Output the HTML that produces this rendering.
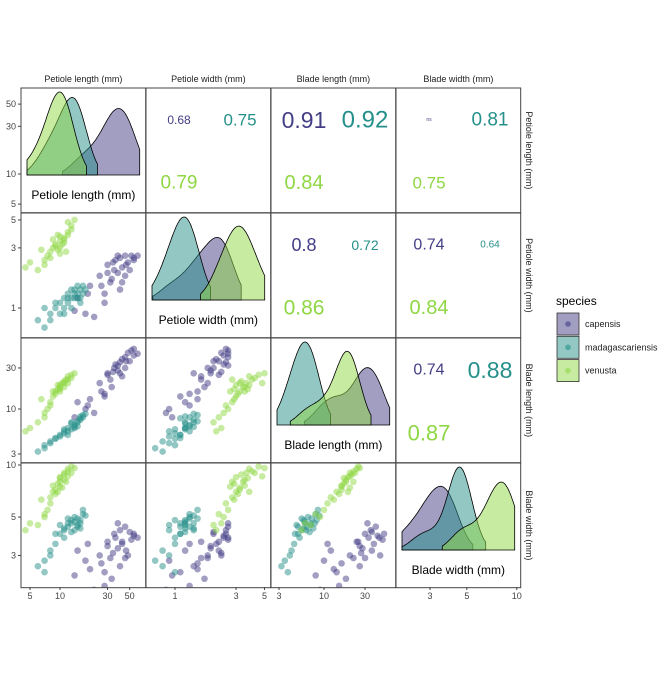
<!DOCTYPE html>
<html><head><meta charset="utf-8"><style>
body{margin:0;background:#fff;}
svg{font-family:"Liberation Sans",sans-serif;}
</style></head><body>
<svg id="chart" width="672" height="672" viewBox="0 0 672 672"></svg>
<script>
const species=["capensis","madagascariensis","venusta"];
const colors=["#433E85","#25908A","#8FD744"];
const varNames=["Petiole length (mm)","Petiole width (mm)","Blade length (mm)","Blade width (mm)"];
// rows: [petiole length, petiole width, blade length, blade width]
const capensis=[[15,1.2,12,3.2],[18,0.9,10,2.8],[20,1.5,13,2.5],[25,1.8,20,3.0],[28,1.3,15,2.0],[30,2.2,25,3.6],[32,1.6,22,2.9],[35,2.0,30,4.0],[36,2.4,33,3.8],[38,1.9,28,3.3],[40,2.5,35,4.2],[42,2.1,38,3.5],[45,2.6,40,4.4],[48,2.3,45,3.0],[50,2.0,36,4.1],[52,2.6,48,3.7],[55,2.4,42,3.9],[40,1.4,26,2.6],[33,1.7,18,2.2],[45,1.8,30,2.9],[22,0.85,9,1.9],[28,1.1,14,2.4],[38,2.6,32,4.6],[46,2.2,36,3.2],[30,1.9,26,3.4],[55,2.5,50,4.0],[34,2.3,27,3.1],[26,1.5,16,2.7],[42,1.6,24,3.6],[60,2.6,44,3.8],[14,0.95,8,2.3],[19,1.3,11,3.5]];
const madagascariensis=[[6,0.8,3.2,2.6],[7,0.7,3.5,2.8],[8,0.9,4,3.0],[9,1.0,4.5,3.5],[10,1.1,5,4.0],[11,0.9,5.5,4.2],[12,1.2,6,4.6],[13,1.0,5.8,4.8],[14,1.3,6.5,5.0],[15,1.2,7,4.5],[16,1.4,7.5,4.3],[17,1.3,8,5.2],[12,1.1,5,4.4],[14,1.2,6,4.7],[15,1.5,7.2,4.9],[13,1.2,6.8,4.1],[16,1.1,7.8,4.6],[11,1.0,5.2,3.8],[10,0.9,4.8,4.5],[14,1.4,6.2,4.2],[17,1.5,8.5,5.5],[8,0.8,4.2,3.2],[7,1.0,3.8,2.4],[12,1.3,5.5,4.9],[15,1.3,6.3,4.4],[9,1.1,4.6,4.0],[13,1.4,7,4.6],[16,1.2,8.2,4.8],[11,1.2,5.8,4.3],[18,1.4,8.8,5.1]];
const venusta=[[4.5,2.1,5.5,4.2],[5,2.3,6,4.6],[6,2.0,7,4.5],[7,2.4,9,5.0],[7.5,2.6,10,5.5],[8,2.8,12,6.5],[8.5,3.0,14,7.0],[9,3.2,16,7.2],[9.5,2.9,17,7.8],[10,3.4,18,8.0],[10,3.0,19,8.5],[11,3.6,20,9.0],[11,3.3,21,8.8],[12,4.0,22,9.2],[12,3.8,24,9.5],[13,4.5,25,9.8],[13,4.2,23,9.0],[8,2.5,11,6.0],[9,3.1,15,6.8],[10,2.7,16,7.5],[11,3.5,18,8.2],[12,4.8,20,8.6],[6.5,2.9,13,6.3],[9.5,3.8,19,7.0],[10.5,3.2,20,7.4],[7,2.2,8,5.2],[8.5,3.5,16,7.6],[11.5,2.8,22,8.0],[14,5.0,26,9.6],[10,3.7,17,8.4]];
const data=[capensis,madagascariensis,venusta];
const corrText={"0,1":["0.68","0.75","0.79"],"0,2":["0.91","0.92","0.84"],"0,3":["ns","0.81","0.75"],"1,2":["0.8","0.72","0.86"],"1,3":["0.74","0.64","0.84"],"2,3":["0.74","0.88","0.87"]};
const corrSize={"0,1":[12,17,19],"0,2":[23,24,20],"0,3":[5,19,17],"1,2":[18,14,21],"1,3":[16,10,20],"2,3":[16,23,22]};
const xTicks=[[5,10,30,50],[1,3,5],[3,10,30],[3,5,10]];
const yTicks=[[5,10,30,50],[1,3,5],[3,10,30],[3,5,10]];
const xCal=[[10,60,99.7],[1,175,128],[10,324,86],[3,430,166]];
const yCal=[[10,174,100],[1,308,126],[10,409,86],[10,465,173]];
const colL=[21,146,271,396], rowT=[88,213,338,463], P=124.7;
function xs(v,val){const c=xCal[v];return c[1]+(Math.log10(val)-Math.log10(c[0]))*c[2];}
function ys(v,val){const c=yCal[v];return c[1]-(Math.log10(val)-Math.log10(c[0]))*c[2];}
const svg=document.getElementById('chart');
const NS='http://www.w3.org/2000/svg';
function mk(tag,attrs,parent){const e=document.createElementNS(NS,tag);for(const k in attrs)e.setAttribute(k,attrs[k]);(parent||svg).appendChild(e);return e;}
function txt(s,attrs,parent){const e=mk('text',attrs,parent);e.textContent=s;return e;}
const clipDefs=mk('defs',{});
for(let r=0;r<4;r++)for(let c=0;c<4;c++){
  const cp=mk('clipPath',{id:'cp'+r+c},clipDefs);
  mk('rect',{x:colL[c],y:rowT[r],width:P,height:P},cp);
}
for(let r=0;r<4;r++)for(let c=0;c<4;c++){
  const g=mk('g',{'clip-path':'url(#cp'+r+c+')'});
  
  
  const x0=colL[c],y0=rowT[r];
  if(r>c){
    for(let s=0;s<3;s++){for(const d of data[s]){
      const p=mk('circle',{cx:xs(c,d[c]),cy:ys(r,d[r]),r:3.3,fill:colors[s],'fill-opacity':0.5},g);
      
      
    }}
  } else if(r===c){
    const base=y0+87, top=y0+4;
    const dens=[];let mx=0;
    const bw=[0.1,0.085,0.11,0.06][c];
    const xmin=Math.log10(Math.pow(10,(x0+6-xCal[c][1])/xCal[c][2])*xCal[c][0]);
    const xmax=Math.log10(Math.pow(10,(x0+P-6-xCal[c][1])/xCal[c][2])*xCal[c][0]);
    for(let s=0;s<3;s++){
      const lv=data[s].map(d=>Math.log10(d[c]));
      const lo=Math.max(xmin,Math.min(...lv)-bw*1.2),hi=Math.min(xmax,Math.max(...lv)+bw*1.2);
      const pts=[];
      for(let i=0;i<=100;i++){const l=lo+(hi-lo)*i/100;let k=0;for(const v of lv)k+=Math.exp(-0.5*((l-v)/bw)**2);k/=lv.length;pts.push([l,k]);if(k>mx)mx=k;}
      dens.push(pts);
    }
    for(let s=0;s<3;s++){
      const pts=dens[s];
      let dstr='';
      pts.forEach((p,i)=>{const X=xs(c,Math.pow(10,p[0])),Y=base-(p[1]/mx)*(base-top);dstr+=(i?'L':'M')+X.toFixed(1)+','+Y.toFixed(1);});
      const X1=xs(c,Math.pow(10,pts[pts.length-1][0])),X0=xs(c,Math.pow(10,pts[0][0]));
      dstr+='L'+X1.toFixed(1)+','+base+'L'+X0.toFixed(1)+','+base+'Z';
      const p=mk('path',{d:dstr,fill:colors[s],'fill-opacity':0.5,stroke:'#000','stroke-width':0.8},g);
      
      
    }
    const t=txt(varNames[c],{x:x0+P/2,y:base+24,'text-anchor':'middle','font-size':12,fill:'#000'},g);
    
    
  } else {
    const key=r+','+c;
    const pos=[[x0+33,y0+32],[x0+94,y0+32],[x0+33,y0+95]];
    for(let s=0;s<3;s++){
      const t=txt(corrText[key][s],{x:pos[s][0],y:pos[s][1],'text-anchor':'middle','dominant-baseline':'central','font-size':corrSize[key][s],fill:colors[s]},g);
      
      
    }
  }
  const b=mk('rect',{x:x0,y:y0,width:P,height:P,fill:'none',stroke:'#444','stroke-width':1});
  
  
}
for(let i=0;i<4;i++){
  const t=txt(varNames[i],{x:colL[i]+P/2,y:82,'text-anchor':'middle','font-size':9,fill:'#222'});
  
  
  const cy=rowT[i]+P/2;
  const t2=txt(varNames[i],{x:526,y:cy,'text-anchor':'middle','font-size':9,fill:'#222',transform:'rotate(90 526 '+cy+')'});
  
  
}
for(let i=0;i<4;i++){
  for(const v of xTicks[i]){
    const X=xs(i,v);
    mk('line',{x1:X,x2:X,y1:587,y2:590,stroke:'#444'});
    const t=txt(String(v),{x:X,y:599,'text-anchor':'middle','font-size':9,fill:'#444'});
    
    
  }
  for(const v of yTicks[i]){
    const Y=ys(i,v);
    if(Y<rowT[i]-1||Y>rowT[i]+P+1)continue;
    mk('line',{x1:18,x2:21,y1:Y,y2:Y,stroke:'#444'});
    const t=txt(String(v),{x:16,y:Y+3,'text-anchor':'end','font-size':9,fill:'#444'});
    
    
  }
}
const lg=mk('g',{});


txt('species',{x:556,y:305,'font-size':12,fill:'#000'},lg);
for(let s=0;s<3;s++){
  const y=313+s*23.3;
  const k=mk('rect',{x:557,y:y,width:22,height:22,fill:colors[s],'fill-opacity':0.5,stroke:'#333','stroke-width':0.8},lg);
  
  
  mk('circle',{cx:568,cy:y+11,r:2.8,fill:colors[s],'fill-opacity':0.6},lg);
  const t=txt(species[s],{x:585,y:y+14,'font-size':9,fill:'#222'},lg);
  
  
}
</script>
</body></html>
